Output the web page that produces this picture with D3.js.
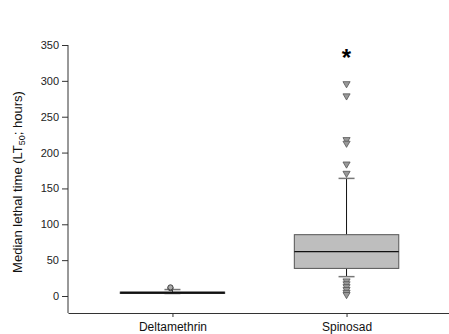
<!DOCTYPE html>
<head><meta charset="utf-8"/></head>
<style>
body { margin: 0; background: white; }
svg { font-family: "Liberation Sans", Arial, sans-serif; }
.axis path, .axis line { stroke: #333; }
</style>
<script src="https://d3js.org/d3.v7.min.js"></script>
<body>
<div id="chart"></div>
</body>
<script>

// data
var groups = ["Deltamethrin", "Spinosad"];
var q1 = [3.5, 38.5];
var median = [4.5, 62];
var q3 = [5.5, 85.5];
var whiskLow = [3.5, 27];
var whiskHigh = [9, 164];
var outliersDelta = [11, 12];
var outliersSpin = [296, 279, 218, 213, 184, 171, 21, 17, 13, 9, 5, 2];
var yTicks = [0, 50, 100, 150, 200, 250, 300, 350];

var width = 449, height = 334;
var margin = {top: 45, left: 68, bottom: 21};

var svg = d3.select("#chart").append("svg")
    .attr("width", width)
    .attr("height", height);

var y = d3.scaleLinear()
    .domain([0, 350])
    .range([296, 45]);

var x = d3.scaleLinear()
    .domain([0.4, 2.6])
    .range([margin.left, 451]);

var boxW = x(1.6) - x(1);
var capW = 16;

// y axis
var yAxis = svg.append("g")
    .attr("class", "axis")
    .attr("transform", "translate(" + margin.left + ",0)")
    .call(d3.axisLeft(y).tickValues(yTicks).tickSize(6).tickSizeOuter(0));
yAxis.select(".domain").attr("d", "M0," + y(350) + "V" + (height - margin.bottom));
yAxis.selectAll("text").style("font-size", "11px").attr("fill", "#222");

// x axis
var xAxis = svg.append("g")
    .attr("class", "axis")
    .attr("transform", "translate(0," + (height - margin.bottom) + ")")
    .call(d3.axisBottom(x).tickValues([1, 2]).tickSize(4).tickSizeOuter(0)
        .tickFormat(function(d) { return groups[d - 1]; }));
xAxis.selectAll("text").style("font-size", "12px").attr("fill", "#111").attr("dy", "0.95em");

// y title with subscript
var title = svg.append("text")
    .attr("transform", "translate(22," + 182 + ") rotate(-90)")
    .attr("text-anchor", "middle")
    .style("font-size", "13px")
    .attr("fill", "#111");
title.append("tspan").text("Median lethal time (LT");
title.append("tspan").attr("dy", 3).style("font-size", "9px").text("50");
title.append("tspan").attr("dy", -3).text("; hours)");

// boxes
groups.forEach(function(g, i) {
    var cx = x(i + 1);
    // whiskers
    svg.append("line")
        .attr("x1", cx).attr("x2", cx)
        .attr("y1", y(q3[i])).attr("y2", y(whiskHigh[i]))
        .attr("stroke", "#111");
    svg.append("line")
        .attr("x1", cx).attr("x2", cx)
        .attr("y1", y(q1[i])).attr("y2", y(whiskLow[i]))
        .attr("stroke", "#111");
    [whiskHigh[i], whiskLow[i]].forEach(function(v) {
        svg.append("line")
            .attr("x1", cx - capW / 2).attr("x2", cx + capW / 2)
            .attr("y1", y(v)).attr("y2", y(v))
            .attr("stroke", "#777").attr("stroke-width", 1.5);
    });
    svg.append("rect")
        .attr("x", cx - boxW / 2)
        .attr("width", boxW)
        .attr("y", y(q3[i]))
        .attr("height", y(q1[i]) - y(q3[i]))
        .attr("fill", "#bebebe")
        .attr("stroke", "#555");
    svg.append("line")
        .attr("x1", cx - boxW / 2).attr("x2", cx + boxW / 2)
        .attr("y1", y(median[i])).attr("y2", y(median[i]))
        .attr("stroke", "#111").attr("stroke-width", i == 0 ? 2 : 1.2);
});

// outliers
svg.selectAll(".odelta")
    .data(outliersDelta)
    .enter().append("circle")
    .attr("cx", x(1) - 2)
    .attr("cy", function(d) { return y(d); })
    .attr("r", 2.6)
    .attr("fill", "#aaa")
    .attr("stroke", "#444");

var tri = d3.symbol().type(d3.symbolTriangle).size(22);
svg.selectAll(".ospin")
    .data(outliersSpin)
    .enter().append("path")
    .attr("d", tri)
    .attr("transform", function(d) { return "translate(" + x(2) + "," + y(d) + ") rotate(180)"; })
    .attr("fill", "#999")
    .attr("stroke", "#555")
    .attr("stroke-width", 0.8);

// significance mark
svg.append("text")
    .attr("x", x(2))
    .attr("y", 66)
    .attr("text-anchor", "middle")
    .style("font-size", "24px")
    .style("font-weight", "bold")
    .text("*");

</script>
